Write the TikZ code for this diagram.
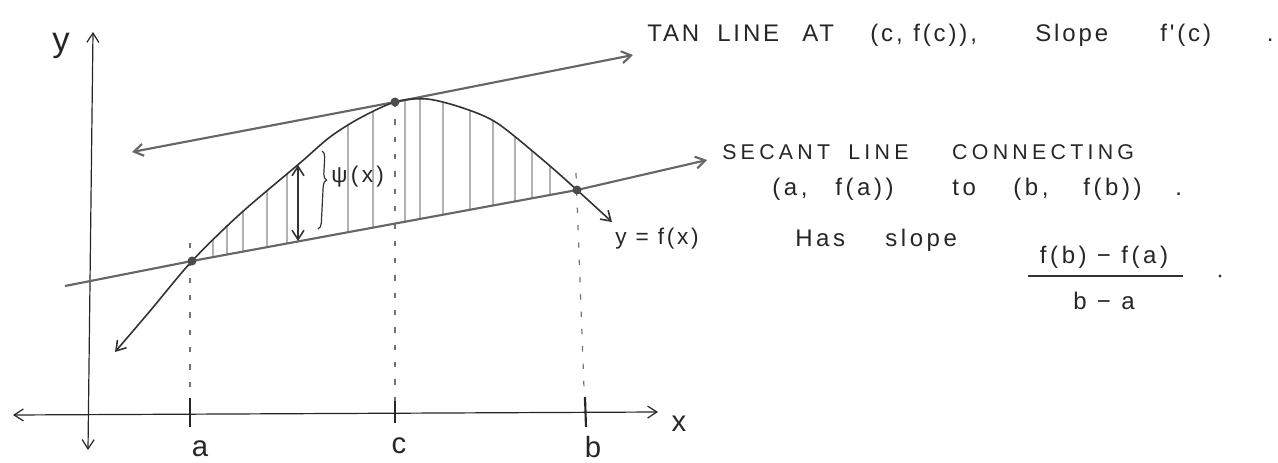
\documentclass[tikz,border=0pt]{standalone}
\usepackage{fontspec}
\setmainfont{Liberation Sans}
\newfontfamily\handA[LetterSpace=12]{Liberation Sans}
\newfontfamily\handB[LetterSpace=20]{Liberation Sans}
\newfontfamily\handC[LetterSpace=15]{Liberation Sans}
\usetikzlibrary{arrows.meta,decorations.pathreplacing}
\begin{document}
\begin{tikzpicture}[x=0.75pt,y=-0.75pt,
  >={Straight Barb[length=7pt,width=9pt]},
  axisline/.style={draw=black!85, line width=0.9pt},
  graphline/.style={draw=black!80, line width=1.2pt},
  chordline/.style={draw=black!60, line width=1.6pt},
  guide/.style={draw=black!55, line width=0.9pt, dash pattern=on 4pt off 9pt},
  hatch/.style={draw=black!30, line width=0.8pt},
  tickmark/.style={draw=black!85, line width=1.6pt},
  dotmark/.style={fill=black!70},
  txt/.style={text=black!85, inner sep=0pt},
  lbl/.style={txt, anchor=base, font=\handC\fontsize{22}{24}\selectfont}
]
\useasboundingbox (0,0) rectangle (1278,463);

% key points
\coordinate (A) at (192,261);
\coordinate (C) at (395,102);
\coordinate (B) at (577,190);

% axes
\coordinate (xL) at (13,415);
\coordinate (xR) at (658,412);
\coordinate (yB) at (88,450);
\coordinate (yT) at (93,32);
\draw[axisline,<->] (xL) -- (xR);
\draw[axisline,<->] (yB) -- (yT);

% hatching between curve and secant
\begin{scope}
  \clip plot[smooth] coordinates {(192,261) (240,214) (300,163) (330,137) (360,118) (395,102) (427,99) (463,108) (497,123) (543,160) (577,190)} -- cycle;
  \foreach \hx in {213,227,243,267,287,348,373,405,420,443,470,493,515,532,550}
    \draw[hatch] (\hx,90) -- (\hx,275);
\end{scope}

% guide lines
\coordinate (aTop) at (190,243);
\coordinate (aBot) at (190,415);
\coordinate (cBot) at (395,415);
\coordinate (bTop) at (576,173);
\coordinate (bBot) at (585,415);
\draw[guide] (aTop) -- (aBot);
\draw[guide] (C) -- (cBot);
\draw[guide] (bTop) -- (bBot);

% ticks
\coordinate (aT1) at (190,398); \coordinate (aT2) at (190,427);
\coordinate (cT1) at (395,401); \coordinate (cT2) at (395,423);
\coordinate (bT1) at (585,397); \coordinate (bT2) at (586,427);
\draw[tickmark] (aT1) -- (aT2);
\draw[tickmark] (cT1) -- (cT2);
\draw[tickmark] (bT1) -- (bT2);

% tangent line
\coordinate (tanL) at (132,152);
\coordinate (tanR) at (633,55);
\draw[chordline,<->] (tanL) -- (C) -- (tanR);

% secant line
\coordinate (secL) at (65,286);
\coordinate (secR) at (707,160);
\draw[chordline,->] (secL) -- (A) -- (B) -- (secR);

% graph of f
\draw[graphline,<->] plot[smooth] coordinates {(115,352) (150,311) (192,261) (240,214) (300,163) (330,137) (360,118) (395,102) (427,99) (463,108) (497,123) (543,160) (577,190) (612,222)};

% points
\fill[dotmark] (A) circle (4.5);
\fill[dotmark] (B) circle (4.5);
\fill[dotmark] (C) circle (4.5);

% psi arrow and brace
\coordinate (psiT) at (298,165);
\coordinate (psiB) at (298,241);
\draw[graphline,<->] (psiT) -- (psiB);
\coordinate (brT) at (322,151);
\coordinate (brB) at (318,229);
\draw[draw=black!80, line width=0.9pt, decorate, decoration={brace, amplitude=4.5pt, aspect=0.37}] (brT) -- (brB);
\node[txt, anchor=base west, font=\handC\fontsize{17}{19}\selectfont] (psilbl) at (331,183) {ψ(x)};

% axis labels
\node[lbl, font=\handC\fontsize{26}{28}\selectfont] (ylbl) at (61,52) {y};
\node[lbl] (xlbl) at (679,431) {x};
\node[lbl] (albl) at (200,456) {a};
\node[lbl] (clbl) at (399,453) {c};
\node[lbl] (blbl) at (593,457) {b};
\node[txt, anchor=base west, font=\handA\fontsize{17}{19}\selectfont] (flbl) at (615,245) {y = f(x)};

% notes
\node[txt, anchor=base west, font=\handA\fontsize{18}{20}\selectfont] (tannote) at (647,42)
  {\makebox[52.5pt][l]{TAN}\makebox[63.75pt][l]{LINE}\makebox[51pt][l]{AT}\makebox[32.25pt][l]{(c,}\makebox[91.5pt][l]{f(c)),}\makebox[93.75pt][l]{Slope}\makebox[80pt][l]{f'(c)}.};
\node[txt, anchor=base west, font=\handB\fontsize{16}{18}\selectfont] (secnote1) at (722,160)
  {\makebox[94.5pt][l]{SECANT}\makebox[78pt][l]{LINE}CONNECTING};
\node[txt, anchor=base west, font=\handC\fontsize{18}{20}\selectfont] (secnote2) at (772,196)
  {\makebox[47.25pt][l]{(a,}\makebox[87.75pt][l]{f(a))}\makebox[45.75pt][l]{to}\makebox[52.5pt][l]{(b,}\makebox[69pt][l]{f(b))}.};
\node[txt, anchor=base west, font=\handC\fontsize{18}{20}\selectfont] (secnote3) at (795,247)
  {\makebox[67.5pt][l]{Has}slope};

% slope fraction
\node[txt, anchor=base, font=\handC\fontsize{18}{20}\selectfont] (num) at (1104,264) {f(b) − f(a)};
\node[txt, anchor=base, font=\handC\fontsize{18}{20}\selectfont] (den) at (1104,310) {b − a};
\coordinate (fbL) at (1028,276);
\coordinate (fbR) at (1183,276);
\draw[draw=black!80, line width=1pt] (fbL) -- (fbR);
\coordinate (fdot) at (1220,276);
\fill[black!80] (fdot) circle (1.6);
\end{tikzpicture}
\end{document}
